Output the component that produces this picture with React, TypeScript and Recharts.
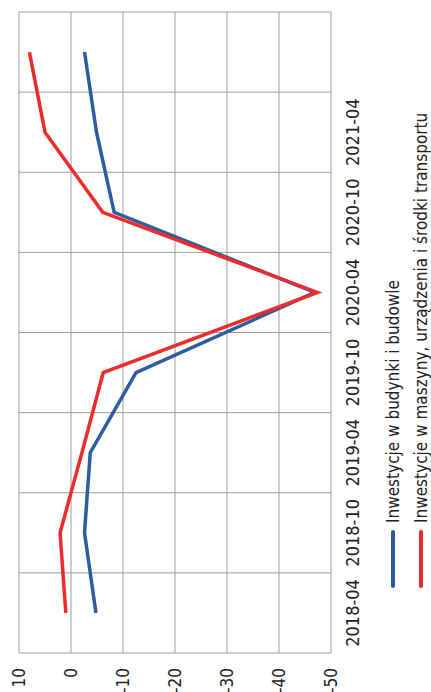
import React from 'react';
import { LineChart, Line, XAxis, YAxis, CartesianGrid, ReferenceLine, Legend } from 'recharts';

// Half-year periods; the last one has no axis label
const periods = ['2018-04', '2018-10', '2019-04', '2019-10', '2020-04', '2020-10', '2021-04', '2021-10'];
const labelledPeriods = ['2018-04', '2018-10', '2019-04', '2019-10', '2020-04', '2020-10', '2021-04'];

// Year-on-year change, %
const buildingsInvestment = [-4.8, -2.6, -3.7, -12.5, -46.9, -8.3, -4.9, -2.6];
const machineryInvestment = [1.0, 2.1, -2.1, -6.2, -47.4, -6.1, 5.0, 8.0];

const valueTicks = [10, 0, -10, -20, -30, -40, -50];

const seriesNames = {
  buildings: 'Inwestycje w budynki i budowle',
  machinery: 'Inwestycje w maszyny, urządzenia i środki transportu',
};

const BLUE = '#2d5c9f';
const RED = '#ec2c2c';
const GRID = '#9c9c9c';
const FONT = '"Liberation Sans Narrow", "DejaVu Sans Condensed", "Open Sans", sans-serif';

// Each period occupies one unit band; points sit in the middle of their band
const data = periods.map((p, i) => ({
  pos: i + 0.5,
  period: p,
  buildings: buildingsInvestment[i],
  machinery: machineryInvestment[i],
}));
const tickPositions = labelledPeriods.map((p) => periods.indexOf(p) + 0.5);
const bandEdges = periods.map((_, i) => i).concat(periods.length);

const LegendBox = () => (
  <div style={{ fontFamily: FONT, fontSize: 17, color: '#222' }}>
    {[
      { color: BLUE, name: seriesNames.buildings },
      { color: RED, name: seriesNames.machinery },
    ].map((item) => (
      <div key={item.name} style={{ display: 'flex', alignItems: 'center', height: 28, whiteSpace: 'nowrap' }}>
        <span
          style={{
            display: 'inline-block',
            width: 58,
            height: 4,
            borderRadius: 2,
            background: item.color,
            marginRight: 7,
          }}
        />
        <span>{item.name}</span>
      </div>
    ))}
  </div>
);

export default function App() {
  return (
    <div
      style={{
        position: 'absolute',
        left: 0,
        top: 0,
        width: 431,
        height: 692,
        overflow: 'hidden',
        background: '#fff',
      }}
    >
      <div
        style={{
          position: 'absolute',
          left: 0,
          top: 0,
          width: 692,
          height: 431,
          transformOrigin: '0 0',
          transform: 'translateY(692px) rotate(-90deg)',
        }}
      >
        <LineChart width={692} height={431} data={data} margin={{ top: 19, right: 12, bottom: 70, left: 0 }}>
          <CartesianGrid vertical={false} stroke={GRID} strokeWidth={1} />
          {bandEdges.map((e) => (
            <ReferenceLine key={e} x={e} stroke={GRID} strokeWidth={1} />
          ))}
          <XAxis
            type="number"
            dataKey="pos"
            domain={[0, periods.length]}
            ticks={tickPositions}
            tickFormatter={(v: number) => periods[Math.floor(v)]}
            axisLine={false}
            tickLine={false}
            tickSize={0}
            tickMargin={15}
            height={30}
            interval={0}
            tick={{ fontSize: 18, fill: '#222', fontFamily: FONT }}
          />
          <YAxis
            type="number"
            domain={[-50, 10]}
            ticks={valueTicks}
            axisLine={false}
            tickLine={false}
            tickSize={0}
            tickMargin={15}
            width={39}
            interval={0}
            tick={{ fontSize: 17, fill: '#222', fontFamily: FONT }}
          />
          <Legend
            layout="vertical"
            align="center"
            verticalAlign="middle"
            content={() => <LegendBox />}
            wrapperStyle={{ left: 104, top: 379, width: 'auto', height: 'auto' }}
          />
          <Line
            dataKey="buildings"
            name={seriesNames.buildings}
            type="linear"
            stroke={BLUE}
            strokeWidth={3.5}
            dot={false}
            isAnimationActive={false}
          />
          <Line
            dataKey="machinery"
            name={seriesNames.machinery}
            type="linear"
            stroke={RED}
            strokeWidth={3.5}
            dot={false}
            isAnimationActive={false}
          />
        </LineChart>
      </div>
    </div>
  );
}
